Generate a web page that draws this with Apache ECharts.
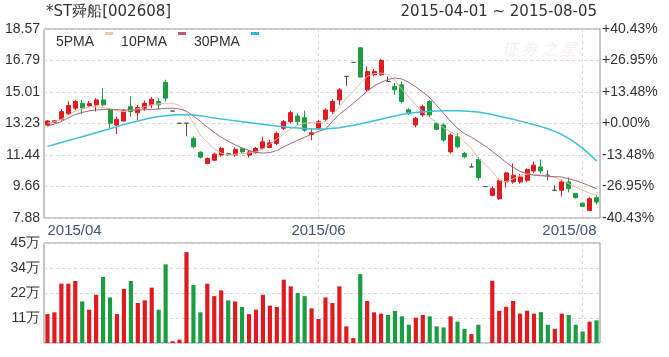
<!DOCTYPE html>
<html>
<head>
<meta charset="utf-8">
<script src="https://cdn.jsdelivr.net/npm/echarts@6/dist/echarts.min.js"></script>
<style>
html,body{margin:0;padding:0;background:#fff;}
#chart{width:669px;height:357px;}
</style>
</head>
<body>
<div id="chart"></div>
<script>
// ---- data ----
const dates = [
 '2015-04-01','2015-04-02','2015-04-03','2015-04-07','2015-04-08','2015-04-09','2015-04-10','2015-04-13','2015-04-14','2015-04-15',
 '2015-04-16','2015-04-17','2015-04-20','2015-04-21','2015-04-22','2015-04-23','2015-04-24','2015-04-27','2015-04-28','2015-04-29',
 '2015-04-30','2015-05-06','2015-05-07','2015-05-08','2015-05-11','2015-05-12','2015-05-13','2015-05-14','2015-05-15','2015-05-18',
 '2015-05-19','2015-05-20','2015-05-21','2015-05-22','2015-05-25','2015-05-26','2015-05-27','2015-05-28','2015-05-29','2015-06-01',
 '2015-06-02','2015-06-03','2015-06-04','2015-06-05','2015-06-08','2015-06-09','2015-06-10','2015-06-11','2015-06-12','2015-06-15',
 '2015-06-16','2015-06-17','2015-06-18','2015-06-19','2015-07-01','2015-07-02','2015-07-03','2015-07-06','2015-07-07','2015-07-08',
 '2015-07-09','2015-07-10','2015-07-13','2015-07-14','2015-07-15','2015-07-16','2015-07-17','2015-07-20','2015-07-21','2015-07-22',
 '2015-07-23','2015-07-24','2015-07-27','2015-07-28','2015-07-29','2015-07-30','2015-07-31','2015-08-03','2015-08-04','2015-08-05'
];
const openP = [13.14,13.30,13.46,13.77,14.09,14.37,14.22,14.28,14.56,14.00,
 13.14,13.37,14.18,13.84,14.09,14.28,14.47,15.55,13.93,13.24,
 13.24,12.38,11.60,10.96,11.15,11.44,11.53,11.44,11.80,11.44,
 11.57,11.82,11.87,12.10,12.95,13.33,13.65,13.55,12.60,12.95,
 13.46,13.90,14.56,15.89,16.68,17.51,15.13,15.98,15.98,15.60,
 15.32,15.41,14.00,13.14,13.71,14.47,13.24,13.14,11.62,12.48,
 11.53,10.77,11.19,9.66,9.16,8.97,9.92,9.92,9.92,10.01,
 10.54,10.77,10.30,9.45,9.45,9.92,9.26,8.72,8.31,9.03];
const closeP = [13.37,13.38,13.90,14.24,14.47,14.09,14.35,14.56,14.28,13.24,
 13.46,13.94,13.90,14.13,14.37,14.60,14.28,14.66,13.93,13.24,
 13.24,11.91,11.32,11.25,11.49,11.82,11.45,11.76,11.62,11.62,
 11.82,12.19,12.13,12.67,13.33,13.84,13.33,12.85,12.70,13.33,
 13.99,14.47,15.13,15.89,16.68,15.85,16.17,16.17,16.80,15.60,
 15.13,14.47,13.83,13.52,14.18,13.71,12.90,12.29,12.57,11.91,
 11.34,10.77,10.17,9.66,9.54,10.01,10.43,10.30,10.20,10.62,
 10.87,10.54,10.30,9.45,9.92,9.54,9.03,8.54,8.97,8.78];
const lowP = [13.08,13.25,13.38,13.71,13.99,13.75,14.15,13.90,14.20,12.95,
 12.63,13.33,13.61,13.42,13.95,14.09,13.99,14.47,13.93,13.24,
 12.50,11.82,11.25,10.92,11.09,11.34,11.38,11.34,11.55,11.30,
 11.51,11.76,11.82,12.00,12.87,13.24,13.14,12.75,12.29,12.87,
 13.38,13.77,14.28,15.35,16.68,15.85,15.03,15.89,15.93,15.60,
 14.85,14.37,13.71,13.01,13.61,13.58,12.85,12.19,11.53,11.82,
 11.25,10.77,10.00,9.66,9.10,8.90,9.60,9.82,9.82,9.92,
 10.43,10.39,10.01,9.45,9.10,9.33,8.98,8.50,8.27,8.65];
const highP = [13.42,13.42,14.03,14.47,14.56,14.56,14.50,14.66,15.23,14.09,
 13.61,14.03,14.75,14.28,14.52,14.72,14.66,15.70,13.93,13.24,
 13.24,12.48,11.65,11.30,11.57,11.91,11.58,11.87,11.90,11.72,
 11.90,12.48,12.30,12.76,13.42,13.95,13.81,13.95,12.95,13.42,
 14.09,14.60,15.23,15.89,16.68,17.51,16.46,16.30,16.88,15.89,
 15.51,15.60,14.09,13.61,14.28,14.56,13.30,13.24,12.67,12.67,
 11.62,10.96,11.33,9.66,9.67,10.12,10.49,10.96,10.37,10.68,
 11.06,11.19,10.58,9.73,10.05,10.17,9.30,8.75,9.06,9.16];
const ma5 = [13.24,13.33,13.45,13.70,13.93,14.08,14.17,14.17,14.12,14.05,
 13.95,13.90,13.97,14.06,14.18,14.28,14.34,14.37,14.37,14.25,
 13.85,13.25,12.57,12.15,11.80,11.55,11.45,11.48,11.53,11.56,
 11.62,11.80,12.05,12.35,12.65,12.92,13.12,13.24,13.28,13.27,
 13.33,13.72,14.18,14.65,15.05,15.48,15.89,16.05,16.08,15.98,
 15.65,15.15,14.72,14.28,13.90,13.55,13.28,12.98,12.75,12.55,
 12.20,11.82,11.25,10.90,10.50,10.01,9.92,10.10,10.28,10.36,
 10.35,10.30,10.25,10.17,10.00,9.82,9.65,9.45,9.30,9.16];
const ma10 = [13.08,13.20,13.33,13.55,13.73,13.85,13.94,13.99,14.02,14.03,
 14.01,13.99,13.99,13.99,14.00,14.02,14.05,14.08,14.09,14.05,
 13.92,13.65,13.35,13.02,12.72,12.45,12.22,12.02,11.84,11.70,
 11.60,11.55,11.58,11.70,11.90,12.10,12.28,12.45,12.62,12.78,
 12.90,13.35,13.75,14.05,14.37,14.70,15.05,15.35,15.55,15.72,
 15.80,15.74,15.55,15.30,15.00,14.68,14.25,13.80,13.35,12.95,
 12.65,12.45,12.20,11.95,11.65,11.35,11.02,10.75,10.52,10.38,
 10.30,10.27,10.24,10.22,10.20,10.10,10.00,9.85,9.70,9.54];
const ma30 = [11.93,12.04,12.15,12.26,12.37,12.48,12.59,12.70,12.82,12.93,
 13.05,13.16,13.27,13.37,13.46,13.55,13.62,13.67,13.71,13.72,
 13.72,13.70,13.66,13.60,13.54,13.48,13.43,13.38,13.33,13.28,
 13.23,13.18,13.13,13.08,13.04,13.00,12.97,12.94,12.92,12.91,
 12.92,12.95,12.99,13.05,13.12,13.20,13.29,13.38,13.47,13.56,
 13.65,13.73,13.80,13.85,13.89,13.92,13.93,13.94,13.94,13.94,
 13.93,13.91,13.87,13.81,13.73,13.64,13.55,13.46,13.36,13.26,
 13.16,13.05,12.93,12.78,12.60,12.38,12.12,11.83,11.48,11.10];
// volume in 万 shares; volumeSide: 1 = red bar, -1 = green bar
const volume = [13,13.8,26.7,26.7,27.9,18.7,15,21.7,29.7,20.5,
 13,24.3,27.9,18,19.2,24.9,15,35.4,0.8,1.5,
 40.9,26.1,13.8,26.7,21.1,23.7,19.2,18.7,16.2,13,
 15,21.7,16.8,16.2,28.5,25.5,22.5,21.1,15.6,10.8,
 20.5,18,25.5,7.5,2.2,31,18.9,13.8,13.2,12.6,
 14.4,12,8.2,11.4,12.6,12,7.5,7,12,9.6,
 6.4,4,8.2,0,28,14.5,16.3,18.9,13.2,14.5,
 13.2,13.9,8.2,6.4,13.2,12.6,8.2,5.2,9.6,10.2];
const volumeSide = [1,1,1,1,1,-1,1,1,-1,-1,
 1,1,-1,1,1,1,-1,-1,1,1,
 1,-1,-1,1,1,1,-1,1,-1,1,
 1,1,1,1,1,1,-1,-1,1,1,
 1,1,1,1,1,-1,1,1,1,-1,
 -1,-1,-1,1,1,-1,-1,-1,1,-1,
 -1,1,-1,1,1,1,1,1,1,1,
 1,-1,-1,1,1,-1,-1,-1,1,-1];
const priceTicks = ['7.88','9.66','11.44','13.23','15.01','16.79','18.57'];
const pctTicks = ['-40.43%','-26.95%','-13.48%','+0.00%','+13.48%','+26.95%','+40.43%'];
const volTicks = ['','11万','22万','34万','45万'];
const xLabelIndex = [0, 39, 79];
const xLabels = ['2015/04','2015/06','2015/08'];
const xGridIndex = [39, 77];
const seriesNames = ['5PMA','10PMA','30PMA'];
const titleText = '*ST舜船[002608]';
const rangeText = '2015-04-01 ~ 2015-08-05';

// ---- chart ----
const RED = '#e01a1f', GREEN = '#1a9e41';
const candleData = openP.map((o, i) => [o, closeP[i], lowP[i], highP[i]]);
const volData = volume.map((v, i) => ({value: v, itemStyle: {color: volumeSide[i] > 0 ? RED : GREEN}}));
const priceStep = 1.7817, pctStep = 13.4767;
const gridLine = {show: true, lineStyle: {color: '#d9d9d9', type: [3, 3], width: 1}};
const vSplit = {show: true, alignWithLabel: true, interval: (i) => xGridIndex.indexOf(i) >= 0,
  lineStyle: {color: '#d9d9d9', type: [3, 3], width: 1}};
const axisFont = 'Liberation Sans';
const icon = 'path://M0,0L0.01,0M6,1L14,1L14,4L6,4ZM0,22L0.01,22';

const chart = echarts.init(document.getElementById('chart'), null, {renderer: 'canvas'});
chart.setOption({
  animation: false,
  backgroundColor: '#fff',
  title: [
    {text: titleText, left: 46, top: 5, padding: 0,
     textStyle: {fontFamily: 'DejaVu Sans', fontSize: 15, fontWeight: 'normal', color: '#333'}},
    {text: rangeText, right: 72, top: 5, padding: 0,
     textStyle: {fontFamily: 'DejaVu Sans', fontSize: 15, fontWeight: 'normal', color: '#333'}}
  ],
  graphic: [{type: 'text', left: 502, top: 41, silent: true,
    style: {text: '证 券 之 星', fill: 'rgba(226,140,150,0.16)', font: 'italic 16px "Noto Sans CJK SC"'}}],
  legend: {left: 56, top: 31, padding: 0, itemGap: 8, itemWidth: 14, itemHeight: 22,
    align: 'right', icon: icon, data: seriesNames,
    textStyle: {fontFamily: axisFont, fontSize: 14, color: '#333'}},
  grid: [
    {left: 44, width: 556, top: 29, height: 189, show: true, borderColor: '#8e8e8e', borderWidth: 1, containLabel: false},
    {left: 44, width: 556, top: 243, height: 100, show: true, borderColor: '#8e8e8e', borderWidth: 1, containLabel: false}
  ],
  xAxis: [
    {type: 'category', gridIndex: 0, data: dates, boundaryGap: true,
     axisLine: {show: false}, axisTick: {show: false},
     axisLabel: {interval: (i) => xLabelIndex.indexOf(i) >= 0,
       formatter: (v, i) => xLabels[xLabelIndex.indexOf(i)],
       alignMinLabel: 'left', alignMaxLabel: 'right',
       fontFamily: axisFont, fontSize: 15, color: '#44567a', margin: 5},
     splitLine: vSplit},
    {type: 'category', gridIndex: 1, data: dates, boundaryGap: true,
     axisLine: {show: false}, axisTick: {show: false}, axisLabel: {show: false},
     splitLine: vSplit}
  ],
  yAxis: [
    {type: 'value', gridIndex: 0, position: 'left', min: 7.88, max: 7.88 + 6 * priceStep, interval: priceStep,
     axisLine: {show: false}, axisTick: {show: false},
     axisLabel: {formatter: (v, i) => priceTicks[i], fontFamily: axisFont, fontSize: 14, color: '#333', margin: 4},
     splitLine: gridLine},
    {type: 'value', gridIndex: 0, position: 'right', min: -3 * pctStep, max: 3 * pctStep, interval: pctStep,
     axisLine: {show: false}, axisTick: {show: false},
     axisLabel: {formatter: (v, i) => pctTicks[i], fontFamily: axisFont, fontSize: 14, color: '#333', margin: 2},
     splitLine: {show: false}},
    {type: 'value', gridIndex: 1, min: 0, max: 45, interval: 11.25,
     axisLine: {show: false}, axisTick: {show: false},
     axisLabel: {formatter: (v, i) => volTicks[i], fontFamily: axisFont, fontSize: 14, color: '#333', margin: 4},
     splitLine: gridLine}
  ],
  series: [
    {type: 'candlestick', name: 'K', xAxisIndex: 0, yAxisIndex: 0, data: candleData, barWidth: '65%',
     itemStyle: {color: RED, color0: GREEN, borderColor: RED, borderColor0: GREEN, borderColorDoji: '#555', borderWidth: 1}},
    {type: 'line', name: seriesNames[0], xAxisIndex: 0, yAxisIndex: 0, data: ma5, symbol: 'none',
     itemStyle: {color: '#eec3a8'}, lineStyle: {color: '#efb9a0', width: 1}},
    {type: 'line', name: seriesNames[1], xAxisIndex: 0, yAxisIndex: 0, data: ma10, symbol: 'none',
     itemStyle: {color: '#c2527c'}, lineStyle: {color: '#a7627f', width: 1}},
    {type: 'line', name: seriesNames[2], xAxisIndex: 0, yAxisIndex: 0, data: ma30, symbol: 'none',
     itemStyle: {color: '#27b9d9'}, lineStyle: {color: '#3cc0dc', width: 1.5}},
    {type: 'bar', name: 'VOL', xAxisIndex: 1, yAxisIndex: 2, data: volData, barWidth: '60%'}
  ]
});
</script>
</body>
</html>
